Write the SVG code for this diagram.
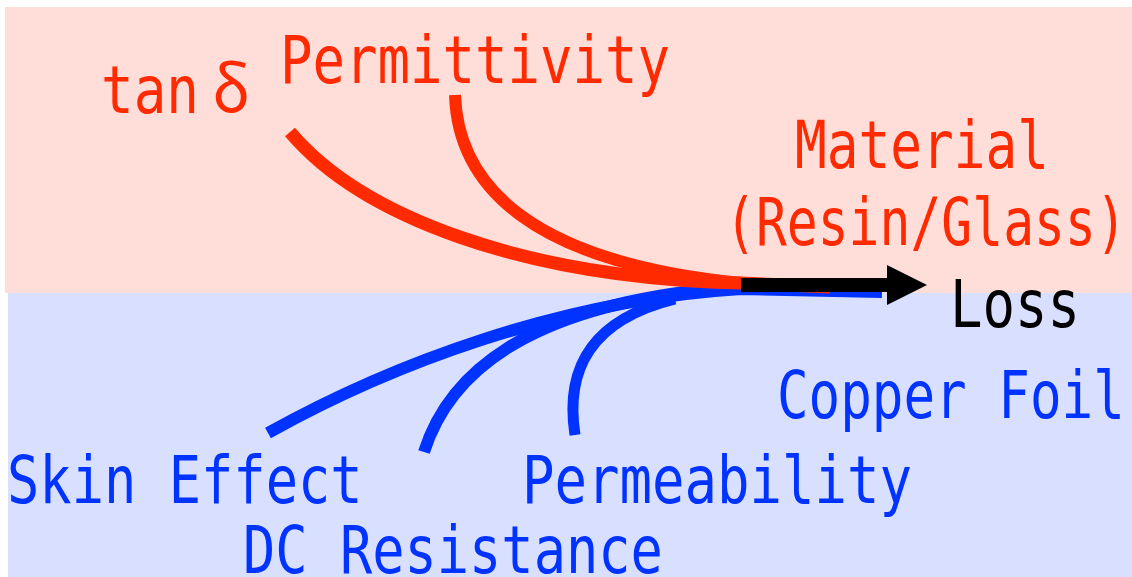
<svg xmlns="http://www.w3.org/2000/svg" width="1132" height="577" viewBox="0 0 1132 577">
<defs>
<style>
.lbl{font-family:"DejaVu Sans Mono","Liberation Mono",monospace;font-size:66px;}
.greek{font-family:"Noto Sans CJK JP","DejaVu Sans",sans-serif;font-size:64px;}
.red{fill:#FF2A00;}
.blu{fill:#0033FF;}
.blk{fill:#000000;}
.rc{fill:none;stroke:#FF2A00;stroke-width:13;stroke-linecap:butt;}
.bc{fill:none;stroke:#0033FF;stroke-width:12;stroke-linecap:butt;}
</style>
<marker id="ah" markerUnits="userSpaceOnUse" markerWidth="40" markerHeight="40" refX="0" refY="20" orient="auto">
<polygon points="0,0 40,20 0,40" fill="#000"/>
</marker>
</defs>
<rect x="0" y="0" width="1132" height="577" fill="#FFFFFF"/>
<rect id="bg-material" x="5" y="7" width="1127" height="286" fill="#FFDDD9"/>
<rect id="bg-copper" x="8" y="293" width="1124" height="284" fill="#D9DFFF"/>
<g id="connectors">
<path class="bc" d="M268,433 C390,365 560,300 741,289 L882,292"/>
<path class="bc" d="M424,452 C450,370 530,310 700,290"/>
<path class="bc" d="M575,435 C565,370 590,320 675,299" style="stroke-width:11"/>
<path class="rc" d="M290,132 C360,215 520,278 741,283 L830,287"/>
<path class="rc" d="M455,95 C458,185 530,262 741,283" style="stroke-width:12"/>
<path d="M741,285 L887,285" fill="none" stroke="#000" stroke-width="14" marker-end="url(#ah)"/>
</g>
<g id="node-tandelta"><text class="lbl red" transform="translate(101,113) scale(0.822,1)">tan</text><text class="greek red" x="231" y="112" text-anchor="middle">δ</text></g>
<g id="node-permittivity"><text class="lbl red" transform="translate(280,83) scale(0.818,1)">Permittivity</text></g>
<g id="node-material"><text class="lbl red" transform="translate(795,168) scale(0.799,1)">Material</text>
<text class="lbl red" transform="translate(725,245) scale(0.778,1)">(Resin/Glass)</text></g>
<g id="node-loss"><text class="lbl blk" transform="translate(950,327) scale(0.818,1)">Loss</text></g>
<g id="node-copper"><text class="lbl blu" transform="translate(777,418) scale(0.796,1)">Copper Foil</text></g>
<g id="node-skin"><text class="lbl blu" transform="translate(7,503) scale(0.814,1)">Skin Effect</text></g>
<g id="node-dc"><text class="lbl blu" transform="translate(243,573) scale(0.813,1)">DC Resistance</text></g>
<g id="node-permeability"><text class="lbl blu" transform="translate(522,503) scale(0.818,1)">Permeability</text></g>
</svg>
